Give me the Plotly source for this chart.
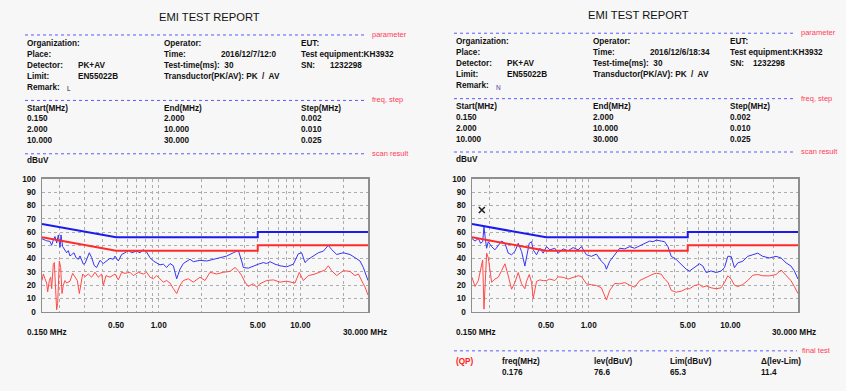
import plotly.graph_objects as go
import math

W, H = 846, 391

# ---------------- data ----------------
lim_freq = [0.15, 0.5, 5.0, 5.0, 30.0]
lim_qp = [66, 56, 56, 60, 60]
lim_av = [56, 46, 46, 50, 50]

# left report (Remark L)
L_pk_freq = [0.150, 0.1618, 0.1708, 0.1755, 0.1803, 0.1853, 0.1904, 0.1956, 0.2010, 0.2043,
             0.2099, 0.2180, 0.2240, 0.2301, 0.2364, 0.2429, 0.2523, 0.2607, 0.2708, 0.2782,
             0.2936, 0.3017, 0.3134, 0.3237, 0.3362, 0.3511, 0.3647, 0.3850, 0.4065, 0.4291,
             0.4530, 0.4782, 0.4913, 0.5187, 0.5476, 0.5781, 0.6103, 0.6443, 0.6987, 0.7376,
             0.7787, 0.8220, 0.8678, 0.9162, 0.9672, 1.0211, 1.0779, 1.1380, 1.2014, 1.2683,
             1.3389, 1.4135, 1.4917, 1.5749, 1.6626, 1.7552, 1.9562, 2.180, 2.429, 2.707,
             3.017, 3.362, 3.646, 3.849, 3.955, 4.290, 4.653, 5.048, 5.475, 5.780,
             6.101, 6.618, 7.179, 8.000, 8.915, 9.666, 10.208, 10.777, 11.378, 12.34,
             13.385, 14.517, 15.746, 16.623, 18.03, 20.09, 22.39, 24.29, 26.34, 27.81, 30.0]
L_pk = [54.9, 53.4, 53.0, 50.0, 54.0, 56.6, 51.7, 57.8, 48.5, 57.8,
        49.0, 46.8, 44.4, 46.0, 42.0, 43.0, 44.4, 40.7, 39.5, 42.0,
        35.8, 36.3, 40.7, 44.4, 40.7, 34.6, 33.3, 38.7, 36.3, 38.2,
        40.2, 39.5, 41.9, 38.2, 43.1, 44.4, 46.1, 44.4, 45.6, 44.4,
        46.8, 44.9, 40.7, 38.2, 37.0, 35.3, 35.8, 33.3, 36.3, 34.6,
        24.8, 32.1, 36.3, 38.2, 39.5, 37.7, 38.7, 38.2, 39.5, 40.7,
        41.9, 44.4, 46.1, 38.2, 33.3, 32.8, 34.6, 35.8, 37.0, 36.3,
        37.7, 35.8, 34.6, 33.8, 35.8, 43.6, 44.4, 37.0, 39.5, 41.9,
        44.4, 45.6, 50.0, 46.8, 43.1, 44.4, 43.1, 40.7, 38.2, 33.3, 23.5]

L_av_freq = [0.150, 0.1533, 0.1575, 0.1618, 0.1645, 0.1690, 0.1727, 0.1755, 0.1803, 0.1833,
             0.1873, 0.1904, 0.1935, 0.1988, 0.2032, 0.2076, 0.2121, 0.2180, 0.2240, 0.2364,
             0.2469, 0.2565, 0.2664, 0.2752, 0.2812, 0.2905, 0.3017, 0.3185, 0.3362, 0.3549,
             0.3747, 0.3956, 0.4065, 0.4245, 0.4530, 0.4913, 0.5187, 0.5476, 0.5781, 0.6271,
             0.6620, 0.7178, 0.7787, 0.8220, 0.8678, 0.9162, 0.9672, 1.0211, 1.0779, 1.1380,
             1.2014, 1.2683, 1.3389, 1.4135, 1.4917, 1.6179, 1.7552, 1.9562, 2.122, 2.301,
             2.564, 2.858, 3.185, 3.455, 3.646, 3.849, 4.065, 4.290, 4.653, 4.913,
             5.186, 5.780, 6.441, 7.179, 8.000, 9.160, 9.825, 10.489, 11.378, 12.68,
             13.752, 14.915, 15.746, 16.623, 18.03, 20.09, 22.39, 24.29, 25.64, 27.07, 28.57, 30.0]
L_av = [23.5, 28.4, 24.8, 21.6, 15.0, 23.5, 26.0, 17.4, 35.8, 37.0,
        16.2, 1.5, 6.4, 38.2, 33.3, 13.7, 19.9, 23.5, 21.6, 23.0,
        28.9, 26.0, 23.5, 13.7, 19.9, 28.4, 26.5, 28.4, 26.0, 29.7,
        26.0, 28.4, 19.9, 27.2, 26.0, 28.4, 24.0, 29.7, 28.9, 29.7,
        27.2, 29.7, 28.4, 29.7, 26.0, 24.8, 27.2, 24.8, 22.3, 23.5,
        21.6, 17.4, 13.7, 19.9, 23.5, 24.8, 22.3, 26.0, 23.5, 29.7,
        28.4, 29.7, 30.4, 33.3, 30.9, 27.2, 22.3, 19.1, 21.1, 18.6,
        21.1, 23.5, 24.0, 22.3, 23.0, 21.6, 29.7, 23.5, 27.2, 28.4,
        29.7, 31.4, 34.6, 30.9, 27.2, 30.9, 30.4, 27.2, 28.4, 23.5, 18.6, 12.5]

# right report (Remark N)
R_freq = [0.150, 0.1575, 0.1662, 0.1726, 0.1783, 0.1822, 0.1862, 0.1903, 0.1955, 0.2063,
          0.2178, 0.2299, 0.2427, 0.2562, 0.2704, 0.2854, 0.3013, 0.3180, 0.3357, 0.3543,
          0.3641, 0.3801, 0.3948, 0.4056, 0.4282, 0.4520, 0.4771, 0.5036, 0.5316, 0.5765,
          0.6085, 0.6600, 0.7155, 0.7760, 0.8418, 0.8884, 0.9635, 1.0449, 1.1333, 1.2291,
          1.2973, 1.3329, 1.4070, 1.5254, 1.6543, 1.7942, 1.9458, 2.110, 2.289, 2.481,
          2.691, 2.841, 2.999, 3.252, 3.433, 3.623, 3.823, 4.147, 4.498, 4.878,
          5.149, 5.583, 6.055, 6.392, 6.747, 7.317, 7.935, 8.604, 9.084, 9.589,
          10.12, 10.68, 11.28, 12.23, 13.26, 14.38, 15.60, 16.91, 18.85, 21.00,
          22.77, 24.70, 26.78, 28.27, 30.0]
R_pk = [55.1, 53.2, 55.1, 51.5, 52.7, 63.7, 55.1, 47.8, 52.7, 49.0,
        46.6, 50.2, 53.2, 51.5, 44.1, 42.9, 45.4, 51.5, 45.4, 34.4,
        40.5, 51.5, 52.7, 46.6, 42.9, 47.8, 44.1, 49.0, 46.6, 47.8,
        44.1, 47.3, 45.9, 48.3, 46.6, 49.0, 42.9, 41.7, 43.4, 38.0,
        35.6, 32.0, 38.0, 42.9, 47.8, 47.3, 49.0, 47.8, 49.8, 51.5,
        53.2, 52.7, 53.9, 53.2, 52.7, 49.0, 41.7, 39.3, 35.6, 32.0,
        30.7, 33.2, 36.1, 34.4, 29.5, 30.7, 29.5, 30.7, 33.2, 41.7,
        41.7, 33.2, 36.8, 38.0, 41.7, 42.9, 44.1, 41.7, 40.5, 41.7,
        40.5, 36.8, 34.4, 30.7, 24.6]
R_av = [25.9, 19.0, 23.4, 33.0, 39.0, 2.0, 30.7, 44.1, 40.5, 22.2,
        24.6, 25.9, 31.0, 36.1, 27.0, 17.0, 22.0, 29.5, 21.0, 17.3,
        23.0, 28.0, 22.2, 10.0, 22.8, 24.0, 23.4, 23.5, 24.6, 23.5,
        26.3, 25.9, 24.6, 25.9, 27.1, 26.5, 21.0, 20.3, 19.8, 18.0,
        11.0, 8.8, 16.1, 21.3, 21.0, 22.0, 20.0, 18.5, 23.5, 25.5,
        27.5, 28.3, 29.0, 28.3, 24.6, 22.2, 16.1, 14.7, 15.5, 17.3,
        17.3, 19.8, 20.5, 18.5, 19.5, 18.0, 17.3, 18.0, 22.0, 27.1,
        24.6, 20.0, 19.0, 20.5, 23.5, 27.5, 28.0, 27.1, 27.0, 28.0,
        31.4, 27.1, 23.4, 19.0, 13.7]

final_freq = [0.176]
final_lev = [76.6]
final_lim = [65.3]
final_delta = [11.4]

grid_freq = [0.2, 0.3, 0.4, 0.5, 0.6, 0.7, 0.8, 0.9, 1, 2, 3, 4, 5, 6, 7, 8, 9, 10, 20]
grid_text = ["", "", "", "0.50", "", "", "", "", "1.00", "", "", "", "5.00", "", "", "", "", "10.00", ""]
y_ticks = list(range(0, 101, 10))

report_title = "EMI TEST REPORT"
time_values = ["2016/12/7/12:0", "2016/12/6/18:34"]
remark_values = ["L", "N"]
step_start = ["0.150", "2.000", "10.000"]
step_end = ["2.000", "10.000", "30.000"]
step_size = ["0.002", "0.010", "0.025"]

# ---------------- styling ----------------
FONT = "Liberation Sans, Arial, sans-serif"
TXT = "#111111"
RED_LBL = "#ff3c5a"
BG = "#f7f7f7"
PK_C = "#3535f5"
AV_C = "#ff4a4a"
LIMQP_C = "#1a1aee"
LIMAV_C = "#ff2b2b"
GRID_C = "#adadad"
FRAME_C = "#8e8e8e"
FS = 8.2

fig = go.Figure()
annotations = []
shapes = []


def px(x):
    return x / W


def py(y):
    return 1 - y / H


def txt(x, y, s, size=FS, color=TXT, bold=True, anchor="left"):
    annotations.append(dict(
        x=px(x), y=py(y), xref="paper", yref="paper", text=s, showarrow=False,
        xanchor=anchor, yanchor="middle",
        font=dict(family=FONT, size=size, color=color, weight="bold" if bold else "normal")))


def dline(x0, x1, y):
    shapes.append(dict(type="line", xref="paper", yref="paper",
                       x0=px(x0), x1=px(x1), y0=py(y), y1=py(y),
                       line=dict(color="#5a5aff", width=1, dash="dot")))


panels = [
    dict(ox=0, oy=0, xa="x", ya="y", sn_x=328, pk=(L_pk_freq, L_pk), av=(L_av_freq, L_av),
         remark_color=TXT),
    dict(ox=429, oy=-1.8, xa="x2", ya="y2", sn_x=751, pk=(R_freq, R_pk), av=(R_freq, R_av),
         remark_color="#5b3a9a"),
]

PLOT_T, PLOT_B = 179, 315

for i, p in enumerate(panels):
    ox, oy = p["ox"], p["oy"]
    # header
    txt(209.5 + ox, 13 + oy, report_title, size=11.2, bold=False, anchor="center")
    dline(25 + ox, 367 + ox, 31.7 + oy)
    txt(370 + ox, 31.2 + oy, "parameter", size=7.5, color=RED_LBL, bold=False)
    rows = [40, 51.7, 62.8, 74, 85.7]
    txt(25 + ox, rows[0] + oy, "Organization:")
    txt(162 + ox, rows[0] + oy, "Operator:")
    txt(299 + ox, rows[0] + oy, "EUT:")
    txt(25 + ox, rows[1] + oy, "Place:")
    txt(162 + ox, rows[1] + oy, "Time:")
    txt(219 + ox, rows[1] + oy, time_values[i])
    txt(299 + ox, rows[1] + oy, "Test equipment:KH3932")
    txt(25 + ox, rows[2] + oy, "Detector:")
    txt(76 + ox, rows[2] + oy, "PK+AV")
    txt(162 + ox, rows[2] + oy, "Test-time(ms):  30")
    txt(299 + ox, rows[2] + oy, "SN:")
    txt(p["sn_x"], rows[2] + oy, "1232298")
    txt(25 + ox, rows[3] + oy, "Limit:")
    txt(76 + ox, rows[3] + oy, "EN55022B")
    txt(162 + ox, rows[3] + oy, "Transductor(PK/AV): PK  /  AV")
    txt(25 + ox, rows[4] + oy, "Remark:")
    txt(65 + ox, rows[4] + 1.2 + oy, remark_values[i], size=6.5, color=p["remark_color"], bold=False)

    dline(25 + ox, 367 + ox, 98.7 + oy)
    txt(370 + ox, 98.2 + oy, "freq, step", size=7.5, color=RED_LBL, bold=False)
    txt(25 + ox, 106.7 + oy, "Start(MHz)")
    txt(162 + ox, 106.7 + oy, "End(MHz)")
    txt(299 + ox, 106.7 + oy, "Step(MHz)")
    for k, yy in enumerate([117.5, 128.8, 140.1]):
        txt(25 + ox, yy + oy, step_start[k])
        txt(162 + ox, yy + oy, step_end[k])
        txt(299 + ox, yy + oy, step_size[k])

    dline(25 + ox, 367 + ox, 153.3 + oy)
    txt(370 + ox, 152.8 + oy, "scan result", size=7.5, color=RED_LBL, bold=False)
    txt(25 + ox, 160 + oy * 0.5, "dBuV")

    # axis end labels
    txt(25 + ox, 336.7, "0.150 MHz")
    txt(389 + ox, 336.7, "30.000 MHz", anchor="right")

    # traces
    fig.add_trace(go.Scatter(x=p["pk"][0], y=p["pk"][1], mode="lines", xaxis=p["xa"], yaxis=p["ya"],
                             line=dict(color=PK_C, width=1), showlegend=False, hoverinfo="skip"))
    fig.add_trace(go.Scatter(x=p["av"][0], y=p["av"][1], mode="lines", xaxis=p["xa"], yaxis=p["ya"],
                             line=dict(color=AV_C, width=1), showlegend=False, hoverinfo="skip"))
    fig.add_trace(go.Scatter(x=lim_freq, y=lim_qp, mode="lines", xaxis=p["xa"], yaxis=p["ya"],
                             line=dict(color=LIMQP_C, width=2), showlegend=False, hoverinfo="skip"))
    fig.add_trace(go.Scatter(x=lim_freq, y=lim_av, mode="lines", xaxis=p["xa"], yaxis=p["ya"],
                             line=dict(color=LIMAV_C, width=2), showlegend=False, hoverinfo="skip"))

# final test marker on right chart
fig.add_trace(go.Scatter(x=final_freq, y=final_lev, mode="markers", xaxis="x2", yaxis="y2",
                         marker=dict(symbol="x-thin", size=6, line=dict(color="#202020", width=1.6)),
                         showlegend=False, hoverinfo="skip"))

# final test table (right report)
dline(454, 797, 355)
txt(800, 354.5, "final test", size=7.5, color=RED_LBL, bold=False)
txt(454, 365.7, "(QP)", color="#ff2020")
txt(500, 365.7, "freq(MHz)")
txt(592, 365.7, "lev(dBuV)")
txt(668, 365.7, "Lim(dBuV)")
txt(759, 365.7, "\u0394(lev-Lim)")
txt(500, 377.2, f"{final_freq[0]:.3f}")
txt(592, 377.2, f"{final_lev[0]:.1f}")
txt(668, 377.2, f"{final_lim[0]:.1f}")
txt(759, 377.2, f"{final_delta[0]:.1f}")

xaxis_common = dict(
    type="log", range=[math.log10(0.15), math.log10(30)],
    tickmode="array", tickvals=grid_freq, ticktext=grid_text,
    showgrid=True, gridcolor=GRID_C, griddash="dot", gridwidth=1,
    showline=True, mirror=True, linecolor=FRAME_C, linewidth=1.5,
    ticks="", zeroline=False, ticklabelstandoff=5,
    tickfont=dict(family=FONT, size=FS, color=TXT, weight="bold"),
)
yaxis_common = dict(
    range=[0, 100], tickmode="array", tickvals=y_ticks,
    showgrid=True, gridcolor=GRID_C, griddash="dot", gridwidth=1,
    showline=True, mirror=True, linecolor=FRAME_C, linewidth=1.5,
    ticks="", zeroline=False, ticklabelstandoff=3,
    tickfont=dict(family=FONT, size=FS, color=TXT, weight="bold"),
)

fig.update_layout(
    width=W, height=H, autosize=False,
    margin=dict(l=0, r=0, t=0, b=0),
    paper_bgcolor=BG, plot_bgcolor=BG,
    xaxis=dict(domain=[px(42), px(368)], anchor="y", **xaxis_common),
    yaxis=dict(domain=[py(PLOT_B), py(PLOT_T)], anchor="x", **yaxis_common),
    xaxis2=dict(domain=[px(472), px(798)], anchor="y2", **xaxis_common),
    yaxis2=dict(domain=[py(PLOT_B), py(PLOT_T)], anchor="x2", **yaxis_common),
    annotations=annotations,
    shapes=shapes,
)

fig.write_html(
    "out.html",
    config={"displayModeBar": False, "staticPlot": True},
    post_script="document.body.style.margin='0px';document.body.style.padding='0px';"
                "document.body.style.background='" + BG + "';document.body.style.overflow='hidden';",
)
